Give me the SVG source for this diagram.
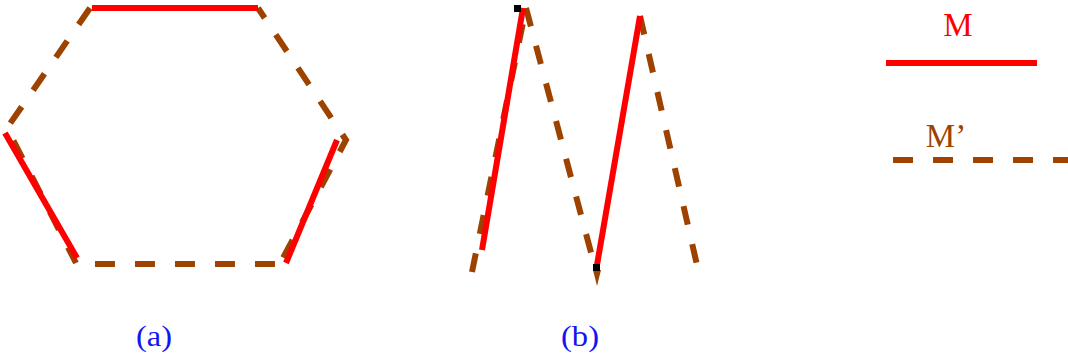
<svg xmlns="http://www.w3.org/2000/svg" width="1068" height="360" viewBox="0 0 1068 360">
<style>
.m{stroke:#ff0000;stroke-width:6;fill:none}
.mp{stroke:#9e4200;stroke-width:6;fill:none;stroke-dasharray:20 20}
.mp2{stroke:#9e4200;stroke-width:6;fill:none;stroke-dasharray:19 20}
.lbl{font-family:"Liberation Serif","Times New Roman",serif;font-size:29px;fill:#1414f0;text-anchor:middle}
.leg{font-family:"Liberation Serif","Times New Roman",serif;font-size:33px;text-anchor:middle}
</style>
<rect width="1068" height="360" fill="#ffffff"/>
<g id="hexagon">
  <polyline class="mp" points="90,8 7,128 76,263"/>
  <polyline class="mp" points="258,8 346,140 283,258" stroke-dashoffset="8"/>
  <line class="mp" x1="95" y1="264" x2="275" y2="264"/>
  <line class="m" x1="92" y1="8" x2="258" y2="8"/>
  <line class="m" x1="5" y1="133" x2="77" y2="258"/>
  <line class="m" x1="337" y1="140" x2="286" y2="263"/>
</g>
<g id="zigzag">
  <line class="mp2" x1="472" y1="272" x2="526" y2="8"/>
  <line class="mp2" x1="526" y1="8" x2="593" y2="260" stroke-dasharray="19 19"/>
  <line class="mp2" x1="640" y1="16" x2="697" y2="265"/>
  <polygon points="593,270 601,270 597,286" fill="#9e4200"/>
  <line class="m" x1="482" y1="250" x2="523" y2="8"/>
  <line class="m" x1="597" y1="265" x2="640" y2="16"/>
  <rect x="514" y="5" width="7" height="7" fill="#000"/>
  <rect x="593" y="264" width="7" height="7" fill="#000"/>
</g>
<g id="legend">
  <text class="leg" x="958" y="36" fill="#ff0000">M</text>
  <line class="m" x1="886" y1="63" x2="1037" y2="63"/>
  <text class="leg" x="946" y="147" fill="#9e4200">M’</text>
  <line class="mp" x1="893" y1="160" x2="1070" y2="160"/>
</g>
<g id="labels">
  <text class="lbl" x="154" y="346" textLength="36" lengthAdjust="spacingAndGlyphs">(a)</text>
  <text class="lbl" x="580" y="346" textLength="38" lengthAdjust="spacingAndGlyphs">(b)</text>
</g>
</svg>
